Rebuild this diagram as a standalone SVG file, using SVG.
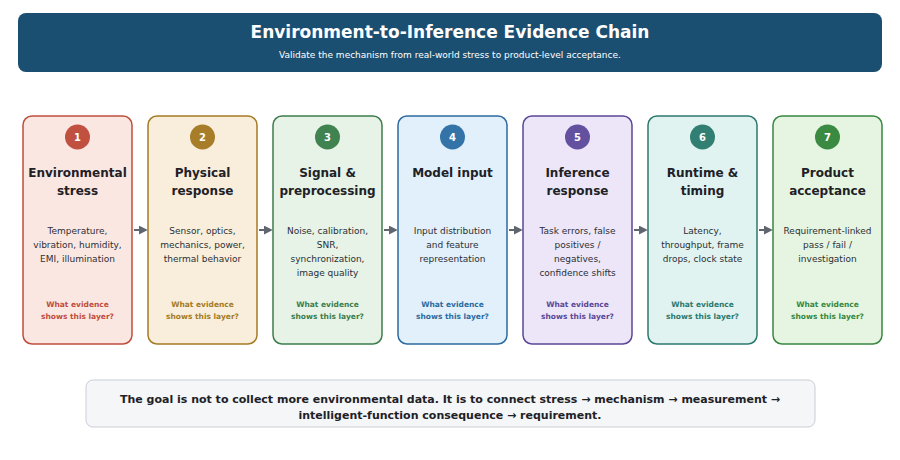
<svg xmlns="http://www.w3.org/2000/svg" width="900" height="460" viewBox="0 0 900 460">
<style>
text{font-family:"DejaVu Sans",sans-serif;text-anchor:middle}
.t{font-size:12px;font-weight:bold;fill:#1e2126}
.d{font-size:9px;fill:#2b2f36}
.q{font-size:7.5px;font-weight:bold}
.n{font-size:10px;font-weight:bold;fill:#fff}
.c{stroke:#5f6670;stroke-width:2;fill:none}
</style>
<defs><marker id="a" viewBox="0 0 10 10" refX="8" refY="5" markerWidth="4.5" markerHeight="4.5" orient="auto"><path d="M0,0L10,5L0,10z" fill="#5f6670"/></marker></defs>
<rect width="900" height="460" fill="#fff"/>
<g id="header">
<rect x="18" y="13" width="864" height="59" rx="8" fill="#1b4f72"/>
<text x="450" y="38" style="font-size:17px;font-weight:bold;fill:#fff">Environment-to-Inference Evidence Chain</text>
<text x="450" y="58" style="font-size:9px;fill:#fff">Validate the mechanism from real-world stress to product-level acceptance.</text>
</g>
<g id="n1"><rect x="23" y="116" width="109" height="228" rx="9" fill="#fbe7e2" stroke="#bf4d3c" stroke-width="1.5"/><circle cx="77.5" cy="137" r="12.5" fill="#c0503f"/><text class="n" x="77.5" y="141">1</text>
<text class="t" x="77.5" y="177">Environmental</text><text class="t" x="77.5" y="195">stress</text>
<text class="d" x="77.5" y="234">Temperature,</text><text class="d" x="77.5" y="248">vibration, humidity,</text><text class="d" x="77.5" y="262">EMI, illumination</text>
<text class="q" x="77.5" y="307" fill="#bf4d3c">What evidence</text><text class="q" x="77.5" y="319" fill="#bf4d3c">shows this layer?</text></g>
<g id="n2"><rect x="148" y="116" width="109" height="228" rx="9" fill="#f8eedb" stroke="#a57a24" stroke-width="1.5"/><circle cx="202.5" cy="137" r="12.5" fill="#a87d2a"/><text class="n" x="202.5" y="141">2</text>
<text class="t" x="202.5" y="177">Physical</text><text class="t" x="202.5" y="195">response</text>
<text class="d" x="202.5" y="234">Sensor, optics,</text><text class="d" x="202.5" y="248">mechanics, power,</text><text class="d" x="202.5" y="262">thermal behavior</text>
<text class="q" x="202.5" y="307" fill="#a57a24">What evidence</text><text class="q" x="202.5" y="319" fill="#a57a24">shows this layer?</text></g>
<g id="n3"><rect x="273" y="116" width="109" height="228" rx="9" fill="#e6f3e6" stroke="#3d7d4c" stroke-width="1.5"/><circle cx="327.5" cy="137" r="12.5" fill="#418251"/><text class="n" x="327.5" y="141">3</text>
<text class="t" x="327.5" y="177">Signal &amp;</text><text class="t" x="327.5" y="195">preprocessing</text>
<text class="d" x="327.5" y="234">Noise, calibration,</text><text class="d" x="327.5" y="248">SNR,</text><text class="d" x="327.5" y="262">synchronization,</text><text class="d" x="327.5" y="276">image quality</text>
<text class="q" x="327.5" y="307" fill="#3d7d4c">What evidence</text><text class="q" x="327.5" y="319" fill="#3d7d4c">shows this layer?</text></g>
<g id="n4"><rect x="398" y="116" width="109" height="228" rx="9" fill="#e1f0fb" stroke="#2c6aa0" stroke-width="1.5"/><circle cx="452.5" cy="137" r="12.5" fill="#3373a8"/><text class="n" x="452.5" y="141">4</text>
<text class="t" x="452.5" y="177">Model input</text>
<text class="d" x="452.5" y="234">Input distribution</text><text class="d" x="452.5" y="248">and feature</text><text class="d" x="452.5" y="262">representation</text>
<text class="q" x="452.5" y="307" fill="#2c6aa0">What evidence</text><text class="q" x="452.5" y="319" fill="#2c6aa0">shows this layer?</text></g>
<g id="n5"><rect x="523" y="116" width="109" height="228" rx="9" fill="#ece6f8" stroke="#5b4796" stroke-width="1.5"/><circle cx="577.5" cy="137" r="12.5" fill="#63509e"/><text class="n" x="577.5" y="141">5</text>
<text class="t" x="577.5" y="177">Inference</text><text class="t" x="577.5" y="195">response</text>
<text class="d" x="577.5" y="234">Task errors, false</text><text class="d" x="577.5" y="248">positives /</text><text class="d" x="577.5" y="262">negatives,</text><text class="d" x="577.5" y="276">confidence shifts</text>
<text class="q" x="577.5" y="307" fill="#5b4796">What evidence</text><text class="q" x="577.5" y="319" fill="#5b4796">shows this layer?</text></g>
<g id="n6"><rect x="648" y="116" width="109" height="228" rx="9" fill="#e0f3f0" stroke="#2b786d" stroke-width="1.5"/><circle cx="702.5" cy="137" r="12.5" fill="#317f73"/><text class="n" x="702.5" y="141">6</text>
<text class="t" x="702.5" y="177">Runtime &amp;</text><text class="t" x="702.5" y="195">timing</text>
<text class="d" x="702.5" y="234">Latency,</text><text class="d" x="702.5" y="248">throughput, frame</text><text class="d" x="702.5" y="262">drops, clock state</text>
<text class="q" x="702.5" y="307" fill="#2b786d">What evidence</text><text class="q" x="702.5" y="319" fill="#2b786d">shows this layer?</text></g>
<g id="n7"><rect x="773" y="116" width="109" height="228" rx="9" fill="#e5f5e2" stroke="#37873e" stroke-width="1.5"/><circle cx="827.5" cy="137" r="12.5" fill="#3a8a42"/><text class="n" x="827.5" y="141">7</text>
<text class="t" x="827.5" y="177">Product</text><text class="t" x="827.5" y="195">acceptance</text>
<text class="d" x="827.5" y="234">Requirement-linked</text><text class="d" x="827.5" y="248">pass / fail /</text><text class="d" x="827.5" y="262">investigation</text>
<text class="q" x="827.5" y="307" fill="#37873e">What evidence</text><text class="q" x="827.5" y="319" fill="#37873e">shows this layer?</text></g>
<g id="connectors">
<line class="c" x1="134" y1="230" x2="146" y2="230" marker-end="url(#a)"/>
<line class="c" x1="259" y1="230" x2="271" y2="230" marker-end="url(#a)"/>
<line class="c" x1="384" y1="230" x2="396" y2="230" marker-end="url(#a)"/>
<line class="c" x1="509" y1="230" x2="521" y2="230" marker-end="url(#a)"/>
<line class="c" x1="634" y1="230" x2="646" y2="230" marker-end="url(#a)"/>
<line class="c" x1="759" y1="230" x2="771" y2="230" marker-end="url(#a)"/>
</g>
<g id="footer">
<rect x="86" y="380" width="729" height="47" rx="7" fill="#f4f6f8" stroke="#c9ced4"/>
<text x="450" y="403" style="font-size:11px;font-weight:bold;fill:#1e2126">The goal is not to collect more environmental data. It is to connect stress → mechanism → measurement →</text>
<text x="450" y="419" style="font-size:11px;font-weight:bold;fill:#1e2126">intelligent-function consequence → requirement.</text>
</g>
</svg>
